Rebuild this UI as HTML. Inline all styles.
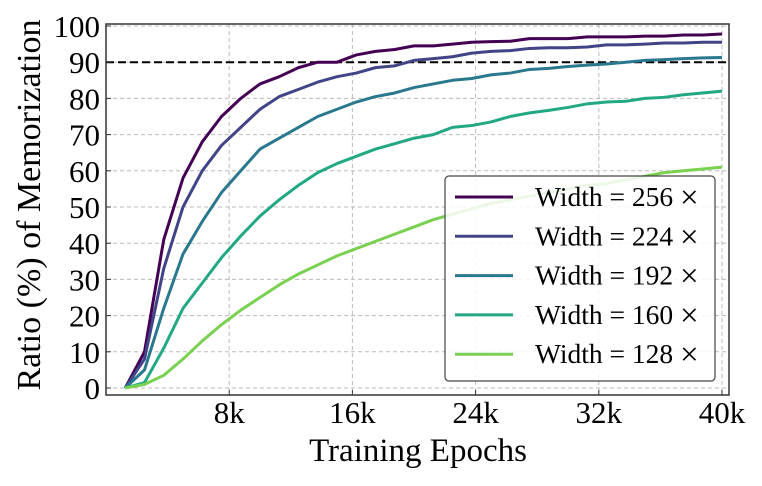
<!DOCTYPE html>
<html><head><meta charset="utf-8"><style>
body{margin:0;background:#fff}
svg text{font-family:"Liberation Serif",serif;fill:#000}
</style></head><body>
<svg id="chart" width="762" height="481">
<g id="grid"></g><g id="lines"></g><g id="axes"></g>
</svg>
<script>
const xs = [1.25,2.5,3.75,5,6.25,7.5,8.75,10,11.25,12.5,13.75,15,16.25,17.5,18.75,20,21.25,22.5,23.75,25,26.25,27.5,28.75,30,31.25,32.5,33.75,35,36.25,37.5,38.75,40];
const s256 = [0,10,41,58,68,75,80,84,86,88.5,90,90,92,93,93.5,94.5,94.5,95,95.5,95.7,95.8,96.5,96.5,96.5,97,97,97,97.2,97.2,97.5,97.5,97.8];
const s224 = [0,8,33,50,60,67,72,77,80.5,82.5,84.5,86,87,88.5,89,90.5,91,91.5,92.5,93,93.2,93.8,94,94,94.2,94.8,94.8,95,95.3,95.3,95.5,95.5];
const s192 = [0,5,22,37,46,54,60,66,69,72,75,77,79,80.5,81.5,83,84,85,85.5,86.5,87,88,88.3,88.8,89.2,89.5,90,90.5,90.7,91,91.2,91.3];
const s160 = [0,1.5,11,22,29,36,42,47.5,52,56,59.5,62,64,66,67.5,69,70,72,72.5,73.5,75,76,76.7,77.5,78.5,79,79.2,80,80.3,81,81.5,82];
const s128 = [0,1,3.5,8,13,17.5,21.5,25,28.5,31.5,34,36.5,38.5,40.5,42.5,44.5,46.5,48,49.5,51,52,53,54,55,56,56.5,57.5,58.5,59.5,60,60.5,61];
const seriesNames = ["256","224","192","160","128"];
const xTicks = [8,16,24,32,40];
const xTickLabels = ["8k","16k","24k","32k","40k"];
const yTicks = [0,10,20,30,40,50,60,70,80,90,100];
const threshold = 90;

const L=106,R=729,T=24,B=395;
const X=v=>106+v*(722-106)/40;
const Y=v=>388-v*3.62;
const NS="http://www.w3.org/2000/svg";
function mk(tag,attrs,parent){const e=document.createElementNS(NS,tag);for(const k in attrs)e.setAttribute(k,attrs[k]);parent.appendChild(e);return e;}
const grid=document.getElementById('grid'),lines=document.getElementById('lines'),axes=document.getElementById('axes');
mk('rect',{x:L,y:T,width:R-L,height:B-T,fill:'#fff'},grid);
xTicks.forEach((t,i)=>{
  const g=mk('line',{x1:X(t),x2:X(t),y1:T,y2:B,stroke:'#bbb','stroke-dasharray':'4,3','stroke-width':1},grid);
  
  
  const tk=mk('line',{x1:X(t),x2:X(t),y1:B,y2:B-5,stroke:'#333'},axes);
  
  
  const tx=mk('text',{x:X(t),y:423,'text-anchor':'middle','font-size':31},axes);
  tx.textContent=xTickLabels[i];
  
  
});
yTicks.forEach(t=>{
  const g=mk('line',{x1:L,x2:R,y1:Y(t),y2:Y(t),stroke:'#bbb','stroke-dasharray':'4,3','stroke-width':1},grid);
  
  
  const tk=mk('line',{x1:L,x2:L+5,y1:Y(t),y2:Y(t),stroke:'#333'},axes);
  
  
  const tx=mk('text',{x:L-6,y:Y(t)+11,'text-anchor':'end','font-size':31},axes);
  tx.textContent=t;
  
  
});
const colors=['#440154','#414487','#2a788e','#22a884','#7ad151'];
const all=[s256,s224,s192,s160,s128];
const th=mk('line',{x1:L,x2:R,y1:Y(threshold),y2:Y(threshold),stroke:'#000','stroke-width':2,'stroke-dasharray':'8,4'},lines);


all.forEach((s,i)=>{
  const p=mk('polyline',{points:s.map((v,j)=>X(xs[j])+','+Y(v)).join(' '),fill:'none',stroke:colors[i],'stroke-width':3,'stroke-linejoin':'round'},lines);
  
  
});
const frame=mk('rect',{x:L,y:T,width:R-L,height:B-T,fill:'none',stroke:'#333','stroke-width':1.5},axes);


const lg=mk('g',{},axes);


mk('rect',{x:445,y:176,width:270,height:205,rx:4,fill:'rgba(255,255,255,0.85)',stroke:'#444','stroke-width':1.2},lg);
seriesNames.forEach((n,i)=>{
  const y=197+i*39.3;
  const ln=mk('line',{x1:455,x2:513,y1:y,y2:y,stroke:colors[i],'stroke-width':3},lg);
  
  
  const t=mk('text',{x:535,y:y+9,'font-size':27.5},lg);
  t.textContent='Width = '+n;
  
  
  const xm=mk('text',{x:680,y:y+11,'font-size':33,'font-family':'DejaVu Sans, sans-serif'},lg);
  xm.textContent='\u00d7';
  
  
});
const xl=mk('text',{x:418,y:461,'text-anchor':'middle','font-size':33},axes);
xl.textContent='Training Epochs';


const yl=mk('text',{x:0,y:0,'text-anchor':'middle','font-size':34,transform:'translate(40,205) rotate(-90)'},axes);
yl.textContent='Ratio (%) of Memorization';


</script>
</body></html>
